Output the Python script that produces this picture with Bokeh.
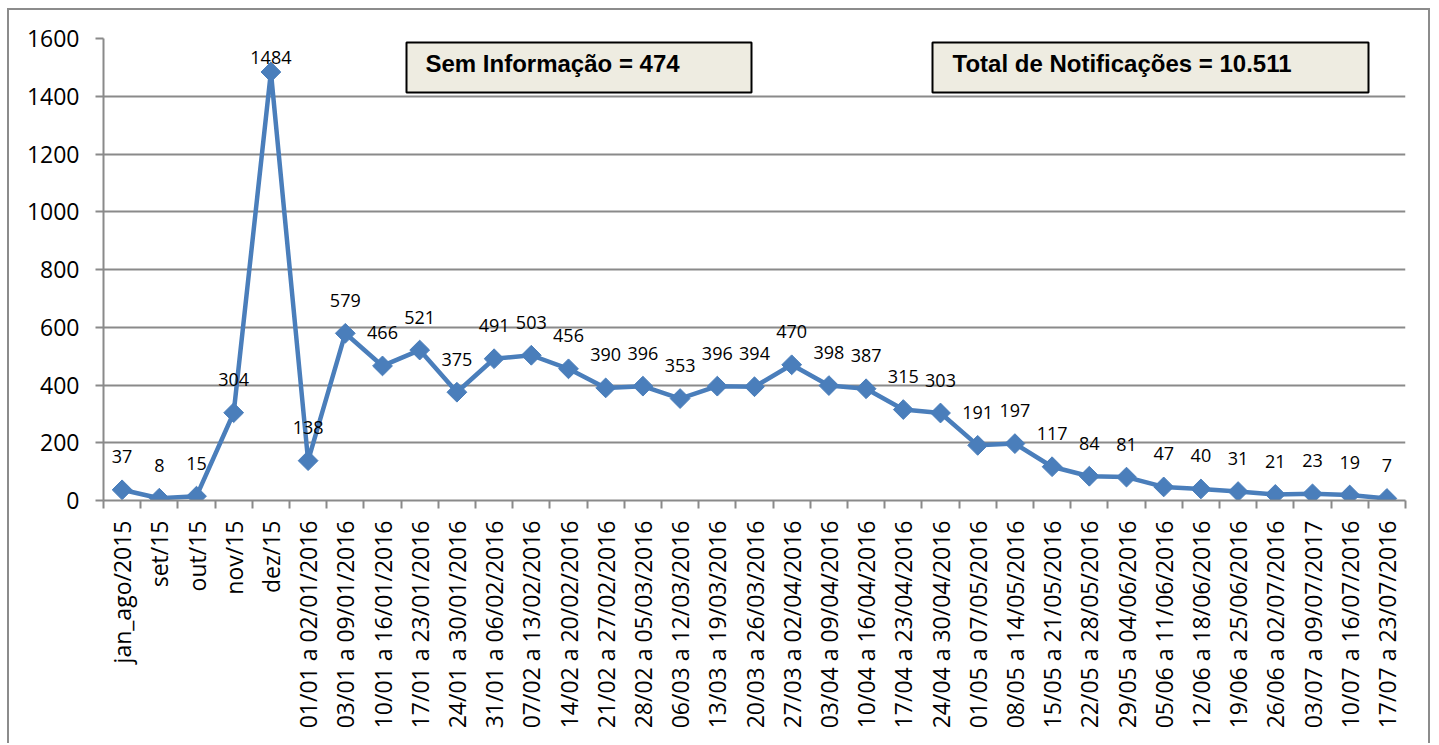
import math
import numpy as np
from bokeh.plotting import figure
from bokeh.models import (ColumnDataSource, FixedTicker, CustomJSTickFormatter,
                          BoxAnnotation, Label, Range1d)
from bokeh.embed import file_html
from bokeh.resources import INLINE

categories = ["jan_ago/2015", "set/15", "out/15", "nov/15", "dez/15",
              "01/01 a 02/01/2016", "03/01 a 09/01/2016", "10/01 a 16/01/2016",
              "17/01 a 23/01/2016", "24/01 a 30/01/2016", "31/01 a 06/02/2016",
              "07/02 a 13/02/2016", "14/02 a 20/02/2016", "21/02 a 27/02/2016",
              "28/02 a 05/03/2016", "06/03 a 12/03/2016", "13/03 a 19/03/2016",
              "20/03 a 26/03/2016", "27/03 a 02/04/2016", "03/04 a 09/04/2016",
              "10/04 a 16/04/2016", "17/04 a 23/04/2016", "24/04 a 30/04/2016",
              "01/05 a 07/05/2016", "08/05 a 14/05/2016", "15/05 a 21/05/2016",
              "22/05 a 28/05/2016", "29/05 a 04/06/2016", "05/06 a 11/06/2016",
              "12/06 a 18/06/2016", "19/06 a 25/06/2016", "26/06 a 02/07/2016",
              "03/07 a 09/07/2017", "10/07 a 16/07/2016", "17/07 a 23/07/2016"]
values = [37, 8, 15, 304, 1484, 138, 579, 466, 521, 375, 491, 503, 456, 390, 396,
          353, 396, 394, 470, 398, 387, 315, 303, 191, 197, 117, 84, 81, 47, 40,
          31, 21, 23, 19, 7]
y_ticks = [0, 200, 400, 600, 800, 1000, 1200, 1400, 1600]
box_texts = ["Sem Informação = 474", "Total de Notificações = 10.511"]

n = len(categories)
Y_MAX = 1600
FRAME_H = 462
ppu = FRAME_H / Y_MAX

xs = [i + 0.5 for i in range(n)]
offs = [-min(33.0, (Y_MAX - v) * ppu - 19.0) for v in values]
src = ColumnDataSource(dict(x=xs, y=values, lab=[str(v) for v in values], off=offs))

W, H = 1423, 735
p = figure(width=W, height=H, output_backend="svg", toolbar_location=None,
           x_range=Range1d(0, n), y_range=Range1d(0, Y_MAX),
           min_border_left=94, min_border_right=27, min_border_top=28,
           min_border_bottom=245)
p.outline_line_color = None
p.background_fill_color = "white"
p.border_fill_color = "white"
p.styles = {"border-left": "2px solid #8c8c8c", "border-right": "2px solid #8c8c8c",
            "border-top": "2px solid #8c8c8c",
            "margin-left": "7px", "margin-top": "8px"}

grid_col = "#8a8a8a"
# y axis
p.yaxis.ticker = FixedTicker(ticks=y_ticks)
p.yaxis.axis_line_color = grid_col
p.yaxis.axis_line_width = 2
p.yaxis.major_tick_line_color = grid_col
p.yaxis.major_tick_line_width = 2
p.yaxis.major_tick_out = 8
p.yaxis.major_tick_in = 0
p.yaxis.minor_tick_line_color = None
p.yaxis.major_label_text_font = "Open Sans"
p.yaxis.major_label_text_font_size = "23px"
p.yaxis.major_label_text_color = "black"
p.yaxis.major_label_standoff = 16

p.ygrid.grid_line_color = grid_col
p.ygrid.grid_line_width = 2
p.xgrid.grid_line_color = None

# x axis: labels at centers, minor ticks at boundaries
p.xaxis.ticker = FixedTicker(ticks=xs, minor_ticks=list(range(n + 1)))
p.xaxis.formatter = CustomJSTickFormatter(args=dict(labels=categories),
                                          code="return labels[Math.floor(tick)];")
p.xaxis.axis_line_color = grid_col
p.xaxis.axis_line_width = 2
p.xaxis.major_tick_line_color = None
p.xaxis.major_tick_out = 0
p.xaxis.major_tick_in = 0
p.xaxis.minor_tick_line_color = grid_col
p.xaxis.minor_tick_line_width = 2
p.xaxis.minor_tick_out = 8
p.xaxis.minor_tick_in = 0
p.xaxis.major_label_orientation = math.pi / 2
p.xaxis.major_label_text_font = "Open Sans"
p.xaxis.major_label_text_font_size = "23px"
p.xaxis.major_label_text_color = "black"
p.xaxis.major_label_standoff = 12

blue = "#4a7ebb"
p.line("x", "y", source=src, line_color=blue, line_width=4.5)
p.scatter("x", "y", source=src, marker="square", angle=np.pi / 4, size=14,
          fill_color=blue, line_color=blue)
p.text("x", "y", text="lab", source=src, y_offset="off", text_align="center",
       text_baseline="middle", text_font_size="18px", text_color="black",
       text_font={"value": "Open Sans"})

def px2x(px):
    return (px - 103) / ((1405 - 103) / n)

def py2y(py):
    return (500 - py) / ppu

boxes = [(406, 751, 425), (932, 1368, 952)]
for (l, r, tx), t in zip(boxes, box_texts):
    p.add_layout(BoxAnnotation(left=px2x(l), right=px2x(r), top=py2y(42), bottom=py2y(92),
                               fill_color="#eeece1", fill_alpha=1.0,
                               line_color="black", line_alpha=1.0, line_width=2,
                               level="annotation"))
    p.add_layout(Label(x=px2x(tx), y=py2y(63), text=t, text_font="Liberation Sans",
                       text_font_style="bold", text_font_size="24px",
                       text_baseline="middle", text_align="left", text_color="black"))

open("out.html", "w").write(file_html(p, INLINE))
